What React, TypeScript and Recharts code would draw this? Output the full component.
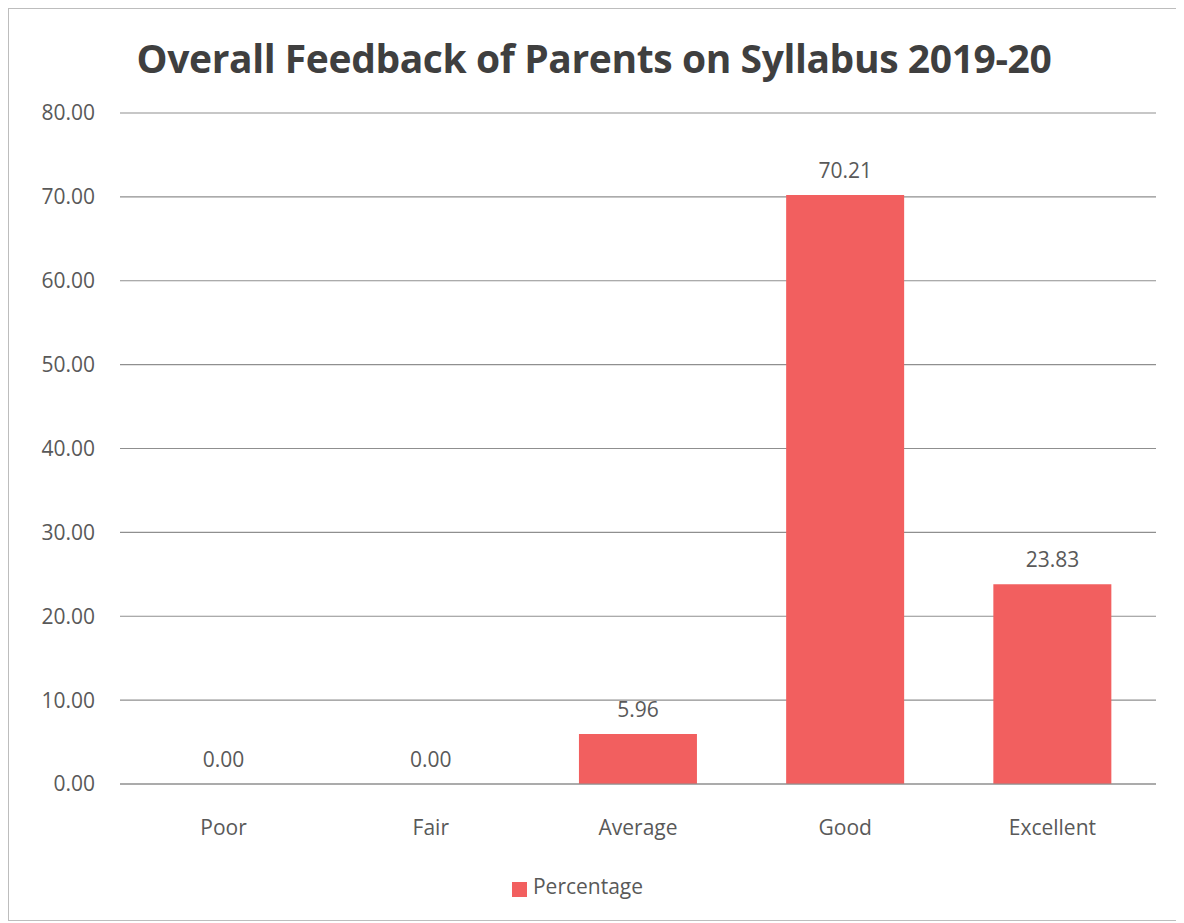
import React from 'react';
import { ComposedChart, Bar, Line, XAxis, YAxis, CartesianGrid, Legend, LabelList } from 'recharts';

const categories = ['Poor', 'Fair', 'Average', 'Good', 'Excellent'];
const percentages = [0.0, 0.0, 5.96, 70.21, 23.83];
const yTicks = [0, 10, 20, 30, 40, 50, 60, 70, 80];

const chartData = categories.map((name, i) => ({ name, Percentage: percentages[i] }));

const FONT = '"Open Sans", "Noto Sans", sans-serif';
const BAR_COLOR = '#f25f5f';
const TEXT_COLOR = '#595959';
const GRID_COLOR = '#8f8f8f';

const App: React.FC = () => {
  return (
    <div
      style={{
        position: 'relative',
        width: 1170,
        height: 911,
        border: '1px solid #bdbdbd',
        background: '#fff',
        fontFamily: FONT,
      }}
    >
      <div
        style={{
          position: 'absolute',
          top: 22,
          left: 0,
          width: '100%',
          textAlign: 'center',
          fontSize: 39,
          fontWeight: 700,
          color: '#3f3f3f',
          letterSpacing: -0.4,
        }}
      >
        Overall Feedback of Parents on Syllabus 2019-20
      </div>
      <ComposedChart
        width={1170}
        height={911}
        data={chartData}
        margin={{ top: 104, right: 23, left: 0, bottom: 20 }}
        barCategoryGap="21.5%"
        style={{ fontFamily: FONT }}
      >
        <CartesianGrid vertical={false} stroke={GRID_COLOR} strokeWidth={1.2} />
        <XAxis
          dataKey="name"
          axisLine={{ stroke: GRID_COLOR, strokeWidth: 1.2 }}
          tickLine={false}
          tick={{ fill: TEXT_COLOR, fontSize: 21 }}
          tickMargin={30}
          height={88}
        />
        <YAxis
          domain={[0, 80]}
          ticks={yTicks}
          axisLine={false}
          tickLine={false}
          width={111}
          tickMargin={19}
          tickFormatter={(v: number) => v.toFixed(2)}
          tick={{ fill: TEXT_COLOR, fontSize: 21 }}
        />
        <Legend
          verticalAlign="bottom"
          align="center"
          iconType="square"
          iconSize={15}
          formatter={(value: string) => (
            <span style={{ color: TEXT_COLOR, fontSize: 21, marginLeft: 2 }}>{value}</span>
          )}
          wrapperStyle={{ fontFamily: FONT }}
        />
        <Bar dataKey="Percentage" fill={BAR_COLOR} isAnimationActive={false} />
        <Line
          dataKey="Percentage"
          stroke="none"
          dot={false}
          activeDot={false}
          legendType="none"
          isAnimationActive={false}
        >
          <LabelList
            dataKey="Percentage"
            position="top"
            offset={17}
            formatter={(v: number) => v.toFixed(2)}
            style={{ fill: TEXT_COLOR, fontSize: 21 }}
          />
        </Line>
      </ComposedChart>
    </div>
  );
};

export default App;
